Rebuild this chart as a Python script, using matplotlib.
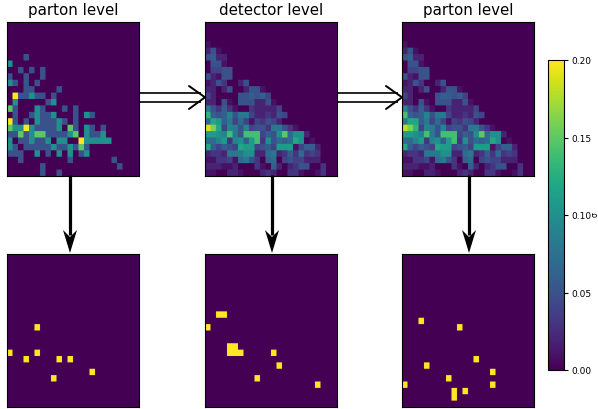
import numpy as np
import matplotlib
matplotlib.use("Agg")
import matplotlib.pyplot as plt
from matplotlib.patches import Polygon

W, H = 598, 410
NBINS = 24

titles = ["parton level", "detector level", "parton level"]
cbar_ticks = [0.00, 0.05, 0.10, 0.15, 0.20]
cbar_ticklabels = ["0.00", "0.05", "0.10", "0.15", "0.20"]

# cell values in hundredths, rows from the top; rows are right-padded with zeros
parton_avg = [
    [], [], [], [], [],
    [0, 0, 0, 5],
    [10],
    [0, 0, 5, 0, 5, 0, 5],
    [5, 0, 0, 5, 0, 0, 5],
    [10, 5, 0, 5, 0, 5],
    [0, 0, 0, 5, 5, 0, 0, 0, 0, 5],
    [0, 20, 5, 5, 10, 5, 5, 0, 5],
    [0, 10, 0, 0, 0, 0, 0, 5, 10],
    [15, 5, 0, 0, 0, 10, 5, 0, 0, 0, 5, 0, 5],
    [0, 5, 0, 0, 5, 10, 5, 5, 10, 0, 0, 0, 5, 0, 10, 5],
    [20, 5, 0, 5, 0, 10, 5, 5, 5, 10, 5, 0, 5],
    [15, 10, 10, 20, 10, 5, 5, 5, 5, 10, 0, 15, 5, 0, 10, 5, 0, 5],
    [5, 5, 15, 5, 10, 15, 15, 5, 5, 5, 5, 10, 15, 0, 10, 5, 5, 10],
    [10, 0, 5, 5, 10, 5, 5, 10, 0, 10, 10, 0, 0, 20, 10, 10, 10, 10, 10],
    [10, 5, 0, 5, 5, 5, 5, 5, 10, 5, 5, 10, 5, 15, 5],
    [5, 5, 5, 0, 0, 10, 0, 5, 0, 10, 0, 10, 0, 5, 10],
    [0, 0, 5, 0, 0, 0, 0, 0, 0, 0, 0, 5, 0, 0, 0, 0, 0, 0, 0, 5],
    [0, 0, 0, 0, 0, 0, 5, 0, 0, 0, 0, 0, 0, 0, 0, 0, 0, 0, 0, 0, 5],
    [0, 0, 0, 0, 0, 0, 5, 0, 0, 5],
]

detector_avg = [
    [], [], [],
    [1],
    [2, 5, 1],
    [5, 6, 2, 2],
    [0, 5, 5, 1],
    [0, 4, 4, 5, 5],
    [5, 2, 1, 5, 5],
    [1, 2, 5, 3, 0, 0, 2, 5],
    [2, 2, 0, 2, 5, 0, 0, 2, 5, 5, 1],
    [4, 2, 0, 0, 0, 0, 5, 5, 6, 5, 6, 4],
    [2, 2, 0, 5, 1, 0, 5, 5, 5, 2, 2, 5, 1],
    [8, 5, 3, 6, 3, 1, 0, 0, 3, 2, 2, 2, 2, 4],
    [13, 6, 5, 6, 9, 5, 8, 8, 4, 2, 2, 3, 2, 5, 4],
    [7, 12, 11, 6, 8, 4, 7, 4, 1, 4, 3, 5, 4, 2],
    [19, 16, 12, 4, 9, 8, 5, 9, 4, 5, 5, 3, 8, 8, 5, 3, 1],
    [11, 11, 10, 9, 14, 8, 5, 14, 14, 14, 4, 6, 5, 10, 15, 7, 10, 10, 2],
    [7, 7, 9, 11, 3, 9, 10, 6, 11, 14, 3, 10, 5, 7, 6, 7, 12, 10, 0, 1],
    [12, 6, 4, 6, 5, 4, 12, 11, 11, 4, 5, 6, 4, 11, 11, 11, 1, 4, 6, 6, 2],
    [2, 3, 3, 2, 8, 8, 8, 10, 10, 2, 2, 7, 8, 2, 3, 6, 3, 7, 3, 4, 3],
    [1, 1, 3, 3, 4, 1, 7, 8, 5, 3, 0, 6, 7, 0, 4, 5, 4, 4, 2, 2, 2],
    [2, 2, 2, 1, 1, 2, 0, 0, 0, 3, 1, 0, 6, 2, 0, 2, 3, 5, 5, 0, 0, 3],
    [1, 1, 0, 0, 2, 2, 1, 0, 0, 0, 2, 3, 2, 0, 0, 3, 3, 1, 0, 0, 1, 3],
]

unfolded_avg = [
    [], [], [],
    [1],
    [2, 5, 1],
    [5, 6, 2, 2],
    [0, 5, 5, 1],
    [0, 4, 4, 5, 5],
    [5, 2, 1, 5, 5],
    [1, 2, 5, 3, 0, 0, 2, 5],
    [2, 2, 0, 2, 5, 0, 0, 2, 5, 5, 1],
    [4, 2, 0, 0, 0, 0, 5, 6, 6, 5, 6, 4],
    [2, 2, 0, 5, 1, 0, 5, 5, 5, 2, 2, 5, 1],
    [9, 5, 3, 6, 3, 1, 0, 0, 3, 2, 2, 2, 2, 4],
    [14, 6, 5, 6, 9, 5, 8, 8, 4, 2, 2, 3, 2, 5, 4],
    [8, 12, 12, 6, 8, 4, 7, 4, 1, 4, 3, 5, 4, 2],
    [18, 16, 13, 4, 9, 8, 5, 9, 4, 5, 5, 3, 8, 8, 5, 3, 1],
    [11, 11, 10, 9, 14, 8, 5, 14, 14, 14, 4, 6, 5, 10, 15, 7, 10, 10, 2],
    [7, 7, 9, 11, 3, 9, 10, 6, 11, 14, 3, 10, 5, 7, 6, 7, 12, 10, 0, 1],
    [12, 6, 4, 6, 5, 4, 12, 11, 11, 4, 5, 6, 4, 11, 11, 11, 1, 4, 6, 6, 2],
    [2, 3, 3, 2, 8, 8, 8, 10, 10, 2, 2, 7, 8, 2, 3, 6, 3, 7, 3, 4, 3],
    [1, 1, 3, 3, 4, 1, 7, 8, 5, 3, 0, 6, 7, 0, 4, 5, 4, 4, 2, 2, 2],
    [2, 2, 2, 1, 1, 2, 0, 0, 0, 3, 1, 0, 6, 2, 0, 2, 3, 5, 5, 0, 0, 3],
    [1, 1, 0, 0, 2, 2, 1, 0, 0, 0, 2, 3, 2, 0, 0, 3, 3, 1, 0, 0, 1, 3],
]

# single-event occupied cells as (row, column)
parton_event = [(11, 5), (15, 0), (15, 5), (16, 3), (16, 9), (16, 11), (18, 15), (19, 8)]
detector_event = [(9, 2), (9, 3), (11, 0), (14, 4), (14, 5), (15, 4), (15, 5), (15, 6),
                  (15, 12), (17, 13), (19, 9), (20, 20)]
unfolded_event = [(10, 3), (11, 10), (16, 13), (17, 4), (18, 16), (19, 8), (20, 0),
                  (20, 16), (21, 9), (22, 9), (21, 11)]


def dense(rows):
    m = np.zeros((NBINS, NBINS))
    for i, r in enumerate(rows):
        m[i, :len(r)] = r
    return m / 100.0


def sparse(cells):
    m = np.zeros((NBINS, NBINS))
    for r, c in cells:
        m[r, c] = 0.20
    return m


def px_axes(fig, x0, y0, x1, y1):
    return fig.add_axes([x0 / W, 1 - y1 / H, (x1 - x0) / W, (y1 - y0) / H])


def show(ax, m):
    # repeat cells so the resampled image has evenly soft cell edges
    fine = np.repeat(np.repeat(m, 8, axis=0), 8, axis=1)
    im = ax.imshow(fine, cmap="viridis", vmin=0, vmax=0.2, aspect="auto",
                   interpolation="hanning", interpolation_stage="rgba")
    ax.set_xticks([])
    ax.set_yticks([])
    return im


fig = plt.figure(figsize=(W / 100, H / 100), dpi=100)

col_x = [(7, 139), (205, 337), (402, 534)]
top_y = (22.6, 176.6)
bot_y = (254.6, 407.6)
top_data = [dense(parton_avg), dense(detector_avg), dense(unfolded_avg)]
bot_data = [sparse(parton_event), sparse(detector_event), sparse(unfolded_event)]

im = None
for (x0, x1), title, d_top, d_bot in zip(col_x, titles, top_data, bot_data):
    a = px_axes(fig, x0, top_y[0], x1, top_y[1])
    im = show(a, d_top)
    a.set_title(title, fontsize=10.8, pad=5.5)
    b = px_axes(fig, x0, bot_y[0], x1, bot_y[1])
    show(b, d_bot)

cax = px_axes(fig, 548, 61, 564, 371)
cb = fig.colorbar(im, cax=cax)
cb.set_ticks(cbar_ticks)
cb.set_ticklabels(cbar_ticklabels)
cb.ax.tick_params(labelsize=6.5, length=3, width=0.8, pad=2)
cb.outline.set_linewidth(0.8)
fig.text(594.8 / W, 1 - 215 / H, "\u03c3", fontsize=5.5, rotation=90, ha="center", va="center")

# overlay in pixel coordinates for the arrows
ov = fig.add_axes([0, 0, 1, 1], facecolor="none")
ov.set_xlim(0, W); ov.set_ylim(H, 0); ov.axis("off")

for xs, xe in [(139, 205), (337, 402)]:
    for yy in (94, 102.7):
        ov.plot([xs, xe - 4], [yy, yy], color="black", lw=1.2, solid_capstyle="butt")
    ov.plot([xe - 16, xe, xe - 16], [87, 98.3, 110], color="black", lw=1.4,
            solid_joinstyle="miter", solid_capstyle="round")

for x in (70, 272, 469):
    ov.plot([x, x], [176, 236], color="black", lw=2.3, solid_capstyle="butt")
    ov.add_patch(Polygon([(x, 254), (x - 7, 231), (x, 238), (x + 7, 231)], closed=True,
                         facecolor="black", edgecolor="none"))

fig.savefig("out.png", dpi=100)
